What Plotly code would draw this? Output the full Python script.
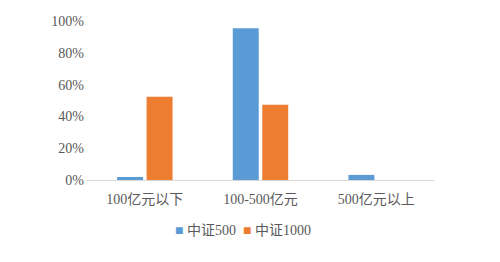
import plotly.graph_objects as go

categories = ["100亿元以下", "100-500亿元", "500亿元以上"]
csi500 = [0.019, 0.954, 0.032]
csi1000 = [0.524, 0.474, 0.0]
series_names = ["中证500", "中证1000"]
colors = ["#5B9BD5", "#ED7D31"]
tick_vals = [0, 0.2, 0.4, 0.6, 0.8, 1.0]
tick_text = ["0%", "20%", "40%", "60%", "80%", "100%"]

font_family = "Liberation Serif, Noto Sans CJK SC, serif"

fig = go.Figure()
for name, vals, c in zip(series_names, [csi500, csi1000], colors):
    fig.add_trace(go.Bar(x=categories, y=vals, name=name, marker=dict(color=c, line=dict(width=0))))

legend_text = "  ".join(
    f"<span style='color:{c};font-size:14px'>■</span> {n}" for n, c in zip(series_names, colors)
)
fig.add_annotation(text=legend_text, xref="paper", yref="paper", x=0.45, y=-0.32,
                   xanchor="center", yanchor="middle", showarrow=False,
                   font=dict(size=14, color="#595959", family=font_family))

fig.update_layout(
    width=500, height=262,
    margin=dict(l=87, r=66, t=21, b=82),
    paper_bgcolor="white", plot_bgcolor="white",
    barmode="group", bargap=0.49, bargroupgap=0.12,
    font=dict(family=font_family, size=14, color="#595959"),
    showlegend=False,
    xaxis=dict(showline=True, linecolor="#D9D9D9", linewidth=1, ticks="",
               showgrid=False, ticklabelstandoff=6,
               tickfont=dict(size=14, color="#595959")),
    yaxis=dict(range=[0, 1.0], tickvals=tick_vals, ticktext=tick_text,
               showgrid=False, zeroline=False, showline=False, ticks="",
               ticklabelstandoff=2,
               tickfont=dict(size=14, color="#595959")),
)
fig.write_html("out.html")
